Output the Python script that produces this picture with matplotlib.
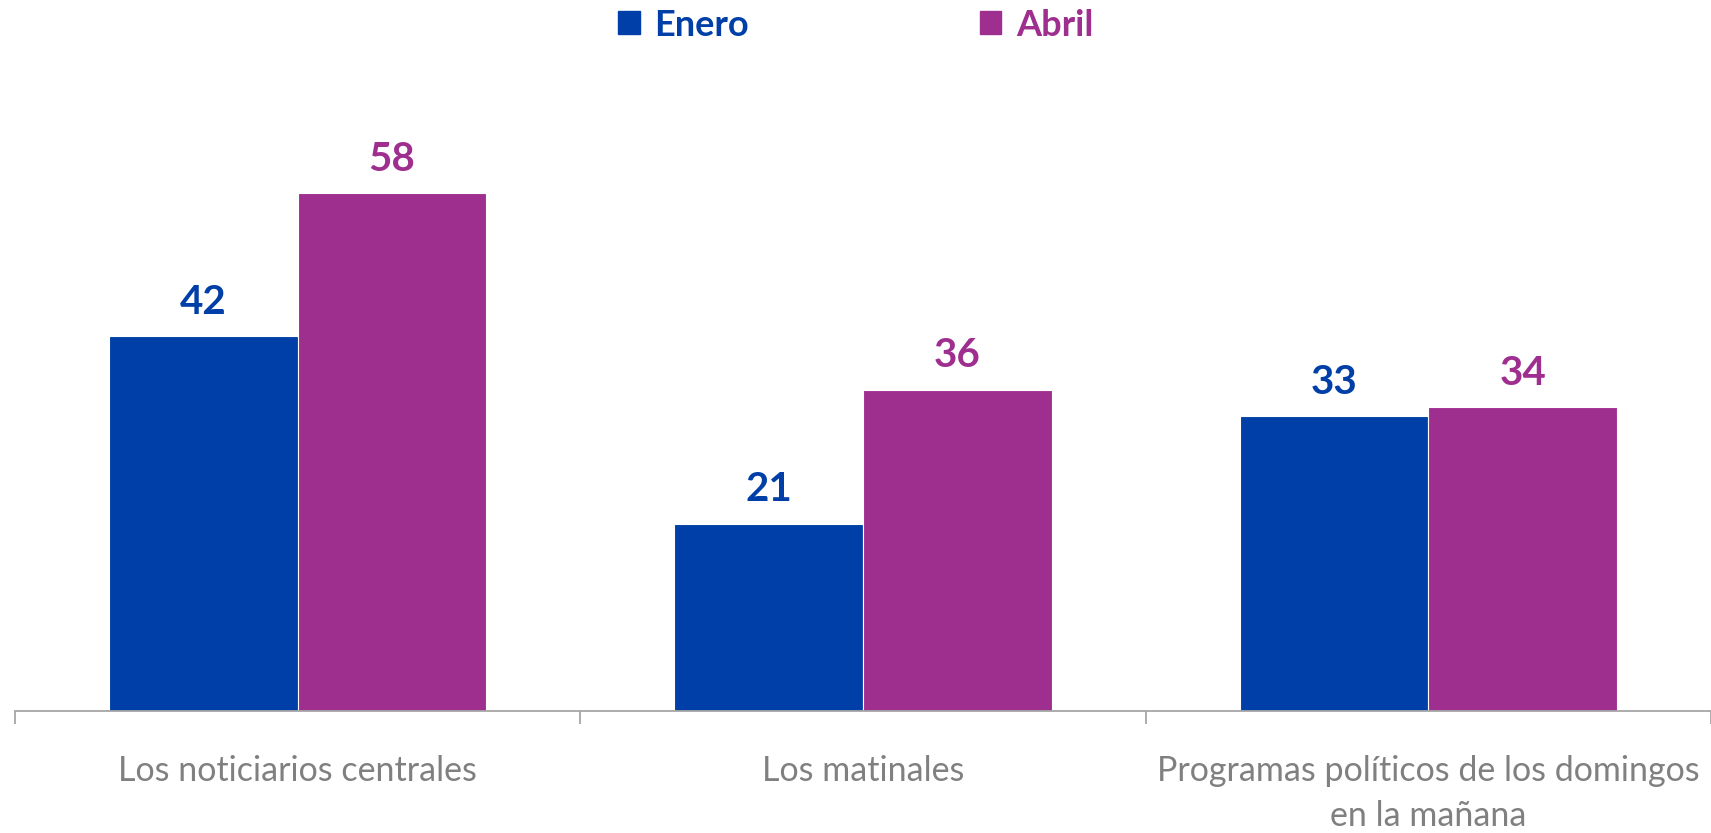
import numpy as np
import matplotlib
matplotlib.use("Agg")
from matplotlib import pyplot as plt
from matplotlib.patches import Patch

categorias = ["Los noticiarios centrales", "Los matinales",
              "Programas políticos de los domingos\nen la mañana"]
enero = [42, 21, 33]
abril = [58, 36, 34]
series = ["Enero", "Abril"]

azul = "#003FA7"
morado = "#9F2F8F"
gris = "#808080"

fig = plt.figure(figsize=(17.11, 8.33), dpi=100)
ax = fig.add_axes([15/1711, 122/833, 1 - 15/1711, 625/833])

x = np.arange(len(categorias))
w = 0.3337
b1 = ax.bar(x - w/2, enero, w, color=azul, edgecolor="white", linewidth=0.8)
b2 = ax.bar(x + w/2, abril, w, color=morado, edgecolor="white", linewidth=0.8)

for barras, col in [(b1, azul), (b2, morado)]:
    for r in barras:
        ax.annotate(f"{r.get_height():.0f}", (r.get_x() + r.get_width()/2, r.get_height()),
                    xytext=(0, 16), textcoords="offset points", ha="center", va="baseline",
                    fontsize=29, fontweight="bold", color=col, family="Lato")

ax.set_xlim(-0.5, len(categorias) - 0.5)
ax.set_ylim(0, 70)
ax.set_yticks([])
for s in ["top", "right", "left"]:
    ax.spines[s].set_visible(False)
ax.spines["bottom"].set_color("#A6A6A6")
ax.spines["bottom"].set_linewidth(1.3)

ax.set_xticks(x)
ax.set_xticklabels(categorias, fontsize=24.5, color=gris, family="Lato", fontweight="normal",
                   linespacing=1.5)
ax.tick_params(axis="x", which="major", length=0, pad=32)
ax.set_xticks(np.arange(-0.5, len(categorias)), minor=True)
ax.tick_params(axis="x", which="minor", length=9, color="#A6A6A6", width=1.3)

handles = [Patch(color=azul), Patch(color=morado)]
leg = fig.legend(handles, series, loc="center", bbox_to_anchor=(0.5, 1 - 25/833), ncol=2,
                 frameon=False, prop={"family": "Lato", "weight": "bold", "size": 26},
                 handlelength=0.6, handleheight=0.6, handletextpad=0.4, columnspacing=6.4,
                 borderaxespad=0, borderpad=0)
for t, c in zip(leg.get_texts(), [azul, morado]):
    t.set_color(c)

fig.savefig("out.png", dpi=100)
